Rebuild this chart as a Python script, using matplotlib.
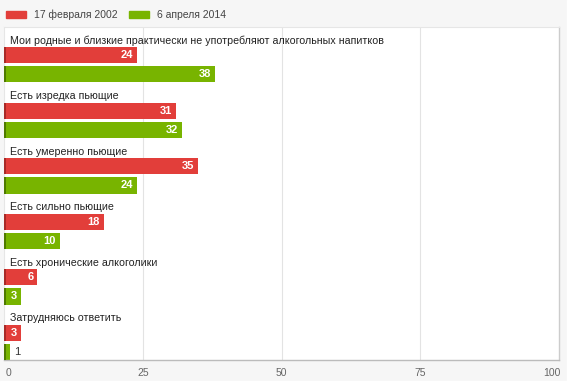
import matplotlib.pyplot as plt
import matplotlib.patches as mpatches
from matplotlib.transforms import ScaledTranslation

categories = [
    "Мои родные и близкие практически не употребляют алкогольных напитков",
    "Есть изредка пьющие",
    "Есть умеренно пьющие",
    "Есть сильно пьющие",
    "Есть хронические алкоголики",
    "Затрудняюсь ответить",
]
v2002 = [24, 31, 35, 18, 6, 3]
v2014 = [38, 32, 24, 10, 3, 1]
series_names = ["17 февраля 2002", "6 апреля 2014"]
ticks = [0, 25, 50, 75, 100]

red = '#e23e3a'
red_dark = '#a82a27'
green = '#78b400'
green_dark = '#4f7a00'

plt.rcParams['font.family'] = ['Liberation Sans', 'DejaVu Sans']

fig = plt.figure(figsize=(5.7, 3.87), dpi=100, facecolor='#f6f6f6')
# white margin at bottom / right like the page around the widget
fig.patches.append(mpatches.Rectangle((0, 0), 1, 6/387, transform=fig.transFigure,
                                      color='white', zorder=-1))
fig.patches.append(mpatches.Rectangle((567/570, 0), 3/570, 1, transform=fig.transFigure,
                                      color='white', zorder=-1))

ax = fig.add_axes([4/570, 27/387, 555/570, 333/387])
ax.set_facecolor('white')
ax.set_xlim(0, 100)
ax.set_ylim(len(categories), 0)

h = 0.29
for i, cat in enumerate(categories):
    ax.text(1, i + 0.25, cat, fontsize=7.7, color='#222222', va='center', ha='left')
    for val, yc, col, dcol in [(v2002[i], i + 0.51, red, red_dark),
                               (v2014[i], i + 0.855, green, green_dark)]:
        ax.barh(yc, val, height=h, color=col, zorder=2)
        ax.barh(yc, 0.35, height=h, color=dcol, zorder=3)
        if val >= 2:
            ax.text(val - 0.7, yc, str(val), fontsize=8, fontweight='bold',
                    color='white', ha='right', va='center', zorder=4)
        else:
            ax.text(val + 0.8, yc, str(val), fontsize=8,
                    color='#333333', ha='left', va='center', zorder=4)

for t in ticks[1:-1]:
    ax.axvline(t, color='#e3e3e3', lw=0.8, zorder=1)

ax.set_xticks(ticks)
ax.set_xticklabels([str(t) for t in ticks])
ax.set_yticks([])
ax.tick_params(axis='x', length=0, labelsize=7.5, labelcolor='#666666', pad=6)
labels = ax.get_xticklabels()
labels[0].set_transform(labels[0].get_transform() + ScaledTranslation(5/100, 0, fig.dpi_scale_trans))
labels[-1].set_transform(labels[-1].get_transform() + ScaledTranslation(-7/100, 0, fig.dpi_scale_trans))

for s in ['top', 'left']:
    ax.spines[s].set_color('#e6e6e6')
    ax.spines[s].set_linewidth(0.8)
ax.spines['right'].set_color('#cccccc')
ax.spines['right'].set_linewidth(1.0)
ax.spines['bottom'].set_color('#bbbbbb')
ax.spines['bottom'].set_linewidth(1.0)

# legend
handles = [mpatches.Patch(color=red, label=series_names[0]),
           mpatches.Patch(color=green, label=series_names[1])]
fig.legend(handles=handles, loc='upper left', bbox_to_anchor=(-0.006, 1.0),
           ncol=2, frameon=False, fontsize=7.5, handlelength=1.9, handleheight=0.6,
           columnspacing=1.1, handletextpad=0.8, labelcolor='#444444')

fig.savefig('out.png', dpi=100, facecolor=fig.get_facecolor())
